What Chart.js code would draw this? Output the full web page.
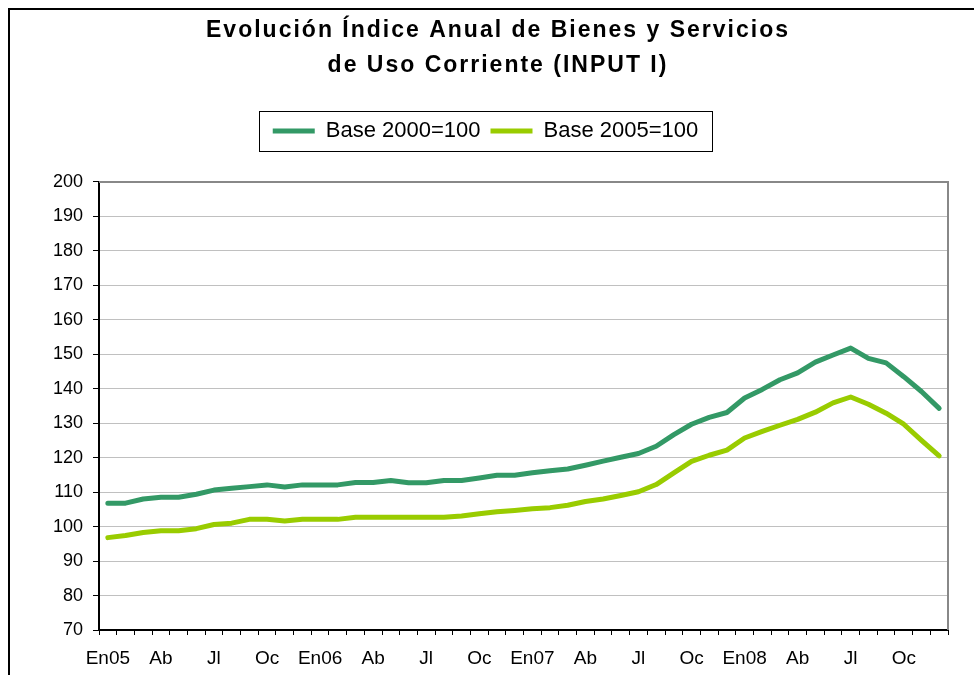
<!DOCTYPE html>
<html>
<head>
<meta charset="utf-8">
<script src="https://cdn.jsdelivr.net/npm/chart.js"></script>
<style>
  html, body { margin: 0; padding: 0; background: #fff; overflow: hidden; }
  #wrap { position: relative; width: 974px; height: 675px; }
  #frame { position: absolute; left: 8px; top: 8px; width: 2000px; height: 2000px;
           border-top: 2px solid #000; border-left: 2px solid #000; }
  canvas { position: absolute; left: 0; top: 0; }
</style>
</head>
<body>
<div id="wrap">
  <div id="frame"></div>
  <canvas id="c" width="974" height="675"></canvas>
</div>
<script>
// ---- data ----
const months = [
  'En05','Fe05','Mr05','Ab05','My05','Jn05','Jl05','Ag05','Se05','Oc05','No05','Di05',
  'En06','Fe06','Mr06','Ab06','My06','Jn06','Jl06','Ag06','Se06','Oc06','No06','Di06',
  'En07','Fe07','Mr07','Ab07','My07','Jn07','Jl07','Ag07','Se07','Oc07','No07','Di07',
  'En08','Fe08','Mr08','Ab08','My08','Jn08','Jl08','Ag08','Se08','Oc08','No08','Di08'
];
const tickLabels = ['En05','Ab','Jl','Oc','En06','Ab','Jl','Oc','En07','Ab','Jl','Oc','En08','Ab','Jl','Oc'];
const base2000 = [
  106.8,106.8,108.0,108.5,108.5,109.4,110.6,111.1,111.6,112.1,111.5,112.1,
  112.1,112.1,112.8,112.8,113.4,112.7,112.7,113.4,113.4,114.1,114.9,114.9,
  115.6,116.2,116.7,117.8,119.0,120.1,121.2,123.3,126.7,129.7,131.7,133.1,
  137.3,139.8,142.6,144.6,147.7,149.8,151.8,148.8,147.5,143.5,139.2,134.3
];
const base2005 = [
  96.8,97.4,98.3,98.8,98.8,99.4,100.6,101.0,102.1,102.1,101.6,102.1,
  102.1,102.1,102.7,102.7,102.7,102.7,102.7,102.7,103.1,103.7,104.3,104.7,
  105.2,105.5,106.2,107.3,108.0,109.0,110.1,112.2,115.6,118.9,120.7,122.2,
  125.7,127.6,129.4,131.1,133.2,135.9,137.6,135.5,132.9,129.7,125.0,120.5
];
const seriesNames = ['Base 2000=100', 'Base 2005=100'];
const titleLines = ['Evolución Índice Anual de Bienes y Servicios', 'de Uso Corriente (INPUT I)'];

const FONT = "'Liberation Sans', Arial, sans-serif";

// spacer box between legend and plot
const spacerPlugin = {
  id: 'spacer',
  beforeInit(chart) {
    const box = {
      position: 'top', weight: 500, fullSize: true, options: {},
      isHorizontal() { return true; },
      update(maxWidth) { this.width = maxWidth; this.height = 30; },
      draw() {}
    };
    Chart.layouts.addBox(chart, box);
  }
};

// title letter spacing / horizontal placement
const titleStylePlugin = {
  id: 'titleStyle',
  beforeDraw(chart) {
    const t = chart.titleBlock;
    if (t && !t._styled) {
      const orig = t.draw.bind(t);
      t.draw = function () {
        const c = chart.ctx;
        c.save();
        c.letterSpacing = '2px';
        c.translate(12.5, 0);
        orig();
        c.restore();
      };
      t._styled = true;
    }
  }
};

// legend border + plot frame
const decoPlugin = {
  id: 'deco',
  beforeDatasetsDraw(chart) {
    const {ctx, chartArea: a} = chart;
    ctx.save();
    ctx.strokeStyle = '#888';
    ctx.lineWidth = 2;
    ctx.beginPath();
    ctx.moveTo(a.left, a.top);
    ctx.lineTo(a.right, a.top);
    ctx.lineTo(a.right, a.bottom);
    ctx.stroke();
    ctx.restore();
  },
  afterDraw(chart) {
    const lg = chart.legend;
    if (!lg || !lg.legendHitBoxes || !lg.legendHitBoxes.length) return;
    const hb = lg.legendHitBoxes;
    let l = Infinity, r = -Infinity;
    hb.forEach(h => { l = Math.min(l, h.left); r = Math.max(r, h.left + h.width); });
    const cy = hb[0].top + hb[0].height / 2;
    const ctx = chart.ctx;
    ctx.save();
    ctx.strokeStyle = '#000';
    ctx.lineWidth = 1;
    ctx.strokeRect(Math.round(l - 14) + 0.5, Math.round(cy - 20) + 0.5, Math.round(r - l + 27), 40);
    ctx.restore();
  }
};

new Chart(document.getElementById('c'), {
  type: 'line',
  data: {
    labels: months,
    datasets: [
      { label: seriesNames[0], data: base2000, borderColor: '#339966', backgroundColor: '#339966',
        borderWidth: 5, pointRadius: 0, tension: 0, borderCapStyle: 'round', borderJoinStyle: 'round' },
      { label: seriesNames[1], data: base2005, borderColor: '#99CC00', backgroundColor: '#99CC00',
        borderWidth: 5, pointRadius: 0, tension: 0, borderCapStyle: 'round', borderJoinStyle: 'round' }
    ]
  },
  options: {
    responsive: false,
    animation: false,
    layout: { padding: { left: 23, right: 26, top: 0, bottom: 0 } },
    plugins: {
      title: {
        display: true,
        text: titleLines,
        color: '#000',
        font: { family: FONT, size: 23, weight: 'bold', lineHeight: 1.52 },
        padding: { top: 13, bottom: 27 }
      },
      legend: {
        display: true,
        position: 'top',
        labels: {
          usePointStyle: true,
          pointStyle: 'line',
          pointStyleWidth: 42,
          color: '#000',
          padding: 10,
          font: { family: FONT, size: 22 }
        }
      },
      tooltip: { enabled: false }
    },
    scales: {
      x: {
        type: 'category',
        offset: true,
        border: { display: true, color: '#000', width: 2 },
        grid: { display: true, offset: true, drawOnChartArea: false, drawTicks: true, tickLength: 5, tickColor: '#000', tickWidth: 1 },
        ticks: {
          autoSkip: false, maxRotation: 0, minRotation: 0, padding: 12, color: '#000',
          font: { family: FONT, size: 19 },
          callback: (v, i) => (i % 3 === 0 ? tickLabels[i / 3] : '')
        },
        afterFit: s => { s.height = 45; }
      },
      y: {
        min: 70, max: 200,
        border: { display: true, color: '#000', width: 2 },
        grid: { color: '#c0c0c0', lineWidth: 1, tickLength: 6, tickColor: '#000' },
        ticks: { stepSize: 10, padding: 10, color: '#000', font: { family: FONT, size: 18 } },
        afterFit: s => { s.width = 76; }
      }
    }
  },
  plugins: [spacerPlugin, titleStylePlugin, decoPlugin]
});
</script>
</body>
</html>
